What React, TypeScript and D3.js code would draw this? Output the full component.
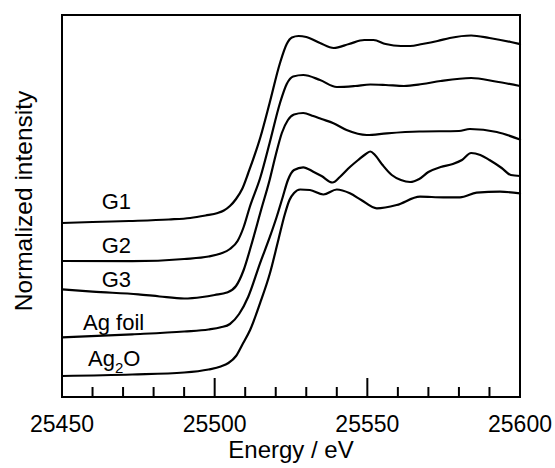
import React from "react";
import * as d3 from "d3";

const X_DOMAIN: [number, number] = [25450, 25600];
const Y_DOMAIN: [number, number] = [0, 3.82];
const MAJOR_TICKS = [25450, 25500, 25550, 25600];
const MINOR_TICKS = [25460, 25470, 25480, 25490, 25510, 25520, 25530, 25540, 25560, 25570, 25580, 25590];

const G1: [number, number][] = [
  [25450, 1.74], [25460, 1.75], [25472, 1.76], [25485, 1.775], [25492, 1.79], [25497, 1.815],
  [25501, 1.84], [25503, 1.865], [25505, 1.91], [25507, 1.98], [25509, 2.08], [25511, 2.24],
  [25515, 2.6], [25518, 2.94], [25521.4, 3.34], [25523.6, 3.53], [25525.3, 3.595], [25527.5, 3.61],
  [25530, 3.6], [25534.5, 3.54], [25539, 3.49], [25544, 3.53], [25549, 3.57], [25552, 3.57],
  [25556, 3.53], [25561, 3.51], [25564, 3.51], [25568, 3.53], [25573, 3.56], [25577, 3.59],
  [25584, 3.615], [25590, 3.59], [25597, 3.55], [25600, 3.53],
];

const G2: [number, number][] = [
  [25450, 1.36], [25473, 1.358], [25490, 1.38], [25498, 1.405], [25502, 1.435], [25505, 1.48],
  [25507.5, 1.56], [25509.5, 1.7], [25511.5, 1.9], [25515, 2.2], [25518, 2.54], [25521.4, 2.94],
  [25523.6, 3.13], [25525.7, 3.205], [25529, 3.22], [25534.5, 3.17], [25540, 3.1], [25546, 3.11],
  [25551, 3.125], [25556, 3.12], [25562, 3.11], [25568, 3.13], [25574, 3.16], [25584, 3.19],
  [25592, 3.155], [25600, 3.11],
];

const G3: [number, number][] = [
  [25450, 1.077], [25460, 1.053], [25475, 1.027], [25482, 1.005], [25490, 0.985], [25496, 1.0],
  [25500, 1.02], [25504, 1.045], [25507, 1.11], [25509.5, 1.27], [25512, 1.52], [25515.2, 1.87],
  [25518, 2.17], [25520, 2.42], [25522, 2.64], [25524, 2.77], [25526, 2.825], [25529, 2.84],
  [25532.3, 2.81], [25535, 2.78], [25538.9, 2.737], [25543.2, 2.67], [25549.8, 2.62],
  [25556.4, 2.637], [25567, 2.655], [25580, 2.66], [25583.6, 2.68], [25592.4, 2.65], [25600, 2.575],
];

const AG_FOIL: [number, number][] = [
  [25450, 0.597], [25473, 0.627], [25490, 0.655], [25498, 0.675], [25502, 0.697], [25505, 0.73],
  [25508, 0.83], [25511, 1.003], [25514.85, 1.337], [25518.1, 1.603], [25520.3, 1.8],
  [25522.3, 2.0], [25524, 2.17], [25526, 2.27], [25529, 2.297], [25532.3, 2.253],
  [25535, 2.21], [25538.6, 2.145], [25541, 2.2], [25544.3, 2.3], [25547, 2.37], [25549.5, 2.43],
  [25551, 2.455], [25552.5, 2.42], [25555, 2.32], [25558, 2.22], [25561, 2.17], [25564, 2.15],
  [25567, 2.18], [25570, 2.25], [25574, 2.3], [25578, 2.33], [25581, 2.37], [25584, 2.44],
  [25587, 2.42], [25590, 2.37], [25594, 2.29], [25597, 2.22], [25600, 2.21],
];

const AG2O: [number, number][] = [
  [25450, 0.21], [25473, 0.225], [25490, 0.245], [25498, 0.275], [25502, 0.305], [25504.5, 0.34],
  [25507, 0.41], [25509, 0.52], [25511.6, 0.67], [25514.85, 0.937], [25518.1, 1.237],
  [25520.85, 1.57], [25523, 1.83], [25524.5, 1.97], [25526, 2.04], [25528, 2.075],
  [25531.2, 2.07], [25535.6, 2.025], [25540, 2.075], [25544.3, 2.037], [25548, 1.97],
  [25553.1, 1.887], [25559.6, 1.92], [25567.25, 2.003], [25574.9, 1.997], [25580.35, 1.997],
  [25585.8, 2.043], [25593.45, 2.053], [25600, 2.037],
];

const SERIES = [G1, G2, G3, AG_FOIL, AG2O];
const LABEL_TEXT = ["G1", "G2", "G3", "Ag foil", "Ag2O"];
const LABEL_X = [25463, 25463, 25463, 25456.9, 25458.5];
const LABEL_Y = [1.88, 1.44, 1.103, 0.67, 0.313];

const W = 555;
const H = 468;
const M = { left: 62, right: 35, top: 15, bottom: 71 };
const FONT = "'Liberation Sans', Arial, Helvetica, sans-serif";

export default function App() {
  const x = d3.scaleLinear().domain(X_DOMAIN).range([M.left, W - M.right]);
  const y = d3.scaleLinear().domain(Y_DOMAIN).range([H - M.bottom, M.top]);
  const line = d3
    .line<[number, number]>()
    .x((d) => x(d[0]))
    .y((d) => y(d[1]))
    .curve(d3.curveMonotoneX);
  const y0 = H - M.bottom;
  const pw = W - M.left - M.right;
  const ph = H - M.top - M.bottom;

  return (
    <div style={{ position: "fixed", left: 0, top: 0 }}>
      <svg width={W} height={H} style={{ display: "block", background: "#fff" }} fontFamily={FONT}>
        <g fill="none" stroke="#000" strokeWidth={2.2} strokeLinejoin="round" strokeLinecap="round">
          {SERIES.map((s, i) => (
            <path key={i} d={line(s) || ""} />
          ))}
        </g>
        <g stroke="#000" strokeWidth={2}>
          {MAJOR_TICKS.map((t) => (
            <line key={"M" + t} x1={x(t)} x2={x(t)} y1={y0} y2={y0 - 19} />
          ))}
          {MINOR_TICKS.map((t) => (
            <line key={"m" + t} x1={x(t)} x2={x(t)} y1={y0} y2={y0 - 10} />
          ))}
        </g>
        <rect x={M.left} y={M.top} width={pw} height={ph} fill="none" stroke="#000" strokeWidth={2} />
        <g fontSize={23} textAnchor="middle" fill="#000">
          {MAJOR_TICKS.map((t) => (
            <text key={"l" + t} x={x(t)} y={y0 + 35}>
              {d3.format("d")(t)}
            </text>
          ))}
        </g>
        <text x={M.left + pw / 2} y={458} fontSize={24} textAnchor="middle" fill="#000">
          Energy / eV
        </text>
        <text
          transform={`translate(32,${M.top + ph / 2 - 5}) rotate(-90)`}
          fontSize={24.5}
          textAnchor="middle"
          fill="#000"
        >
          Normalized intensity
        </text>
        <g fontSize={22} fill="#000">
          {LABEL_TEXT.map((t, i) =>
            t === "Ag2O" ? (
              <text key={t} x={x(LABEL_X[i])} y={y(LABEL_Y[i])}>
                Ag
                <tspan fontSize={15} dy={7}>2</tspan>
                <tspan dy={-7}>O</tspan>
              </text>
            ) : (
              <text key={t} x={x(LABEL_X[i])} y={y(LABEL_Y[i])}>
                {t}
              </text>
            )
          )}
        </g>
      </svg>
    </div>
  );
}
